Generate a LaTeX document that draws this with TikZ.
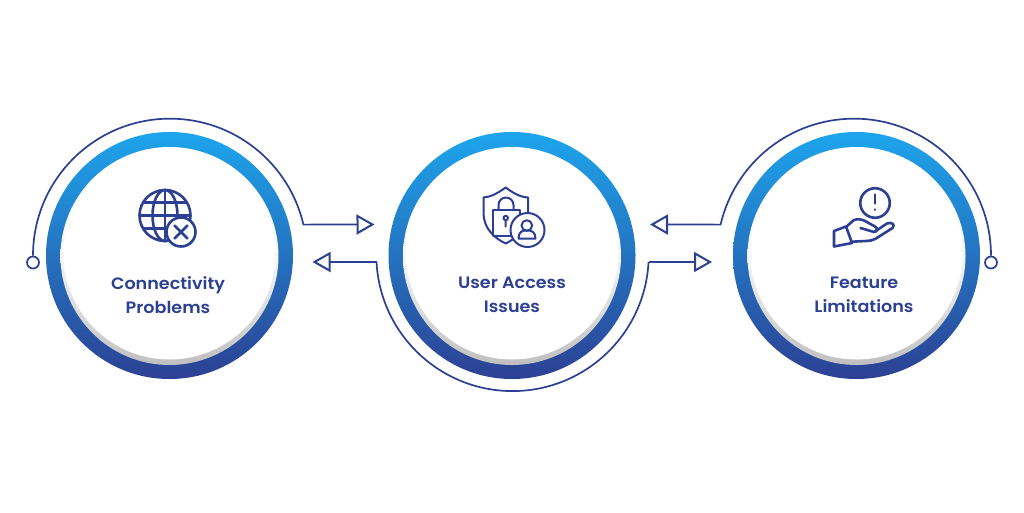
\documentclass[tikz,border=0pt]{standalone}
\usepackage{fontspec}
\setmainfont{Poppins}[BoldFont={Poppins SemiBold},BoldFeatures={FakeStretch=1.065}]
\usetikzlibrary{arrows.meta}
\definecolor{navy}{HTML}{2C4093}
\definecolor{sky}{HTML}{1DA5EC}
\tikzset{
 ring/.style={circle,minimum size=247pt,inner sep=0pt,top color=sky,bottom color=navy,middle color=sky!50!navy},
 bevel/.style={circle,minimum size=218pt,inner sep=0pt,top color=white,bottom color=black!25,middle color=black!3},
 disc/.style={circle,minimum size=212pt,inner sep=0pt,fill=white},
 caption/.style={align=center,text=navy,font=\fontsize{16.5}{24}\selectfont\bfseries},
 conn/.style={draw=navy,line width=1.7pt,line join=miter},
 tipped/.style={conn,-{Triangle[open,length=18pt,width=20pt,line width=2pt]}},
 dot/.style={circle,draw=navy,line width=1.7pt,minimum size=12pt,inner sep=0pt,fill=white},
 ico/.style={draw=navy,line width=2.6pt,line cap=round,line join=round},
 thinico/.style={ico,line width=2pt},
 badge/.style={ico,fill=white},
}
\begin{document}
\begin{tikzpicture}[x=1pt,y=-1pt]
\useasboundingbox (0,0) rectangle (1024,512);
% rings
\foreach \n/\cx in {a/169.5,b/512,c/856.5}{
 \node[ring] (\n ring) at (\cx,255.5) {};
 \node[bevel] (\n bevel) at (\cx,256) {};
 \node[disc] (\n disc) at (\cx,253.5) {};
}
% captions
\node[caption] (atext) at (168,294.7) {Connectivity\\Problems};
\node[caption] (btext) at (512,294.7) {User Access\\Issues};
\node[caption] (ctext) at (864,294.7) {Feature\\Limitations};
% free ends
\node[dot] (adot) at (33,262.5) {};
\node[dot] (cdot) at (991,262.5) {};
\coordinate (atip) at (374.5,224.5);
\coordinate (btipl) at (312.5,262);
\coordinate (btipr) at (712,262);
\coordinate (ctip) at (650,224.5);
% connectors
\draw[tipped] (adot.north) arc[start angle=180,end angle=346.9,radius=137] -- (atip);
\draw[tipped] (cdot.north) arc[start angle=0,end angle=-166.9,radius=137] -- (ctip);
\draw[tipped] (btipr -| 648.5,0) -- (btipr);
\draw[tipped] (376.5,262) -- (btipl);
\draw[conn] (376.5,262) arc[start angle=177,end angle=3,radius=136.2];
% globe
\begin{scope}[shift={(165,215.5)}]
 \draw[ico] (0,0) circle (25.5);
 \draw[ico] (0,-25.5) -- (0,25.5) (-25.5,0) -- (25.5,0);
 \draw[ico] (0,0) ellipse (12.5 and 25.5);
 \draw[ico] (-21,-13) -- (21,-13) (-21,13) -- (21,13);
\end{scope}
\node[badge,circle,minimum size=29pt,inner sep=0pt] (abadge) at (181,232) {};
\draw[ico,line width=2.8pt] (abadge.center) ++(-6.5,-6.5) -- ++(13,13) ++(0,-13) -- ++(-13,13);
% shield, lock, person
\draw[thinico] (505.7,187.5) .. controls (498,193) and (491,197) .. (483.5,197.5) -- (483.5,213) .. controls (483.5,228) and (494,238) .. (505.7,243.5) .. controls (517,238) and (528,228) .. (528,213) -- (528,197.5) .. controls (520,197) and (513,193) .. (505.7,187.5) -- cycle;
\draw[thinico] (492.5,210) rectangle (520,235.5);
\draw[thinico] (498.5,210) -- (498.5,205) arc[start angle=180,end angle=360,radius=7.5] -- (513.5,210);
\draw[thinico] (505.7,218) circle (2.2) (505.7,220.5) -- (505.7,226.5);
\node[badge,thinico,circle,minimum size=34pt,inner sep=0pt] (bbadge) at (527.5,230) {};
\draw[thinico] (526.8,225.5) circle (5.3);
\draw[thinico] (518.5,238.5) .. controls (518.5,232.5) and (522,231) .. (524,230.5) -- (529.5,230.5) .. controls (532,231) and (535.5,232.5) .. (535.5,238.5) -- cycle;
% hand with alert
\node[ico,circle,minimum size=29.5pt,inner sep=0pt] (cbadge) at (875,203) {};
\draw[ico] (875,194.5) -- (875,203.5) (875,209.5) -- (875,209.8);
\draw[ico] (834,231) -- (846,226.5) -- (852,243) -- (834,246.5) -- cycle;
\draw[ico] (846.5,226.5) -- (854,220) .. controls (858,218.5) and (862,219.5) .. (865,221) -- (875,226.5) .. controls (878,228) and (877.5,232) .. (874,232) -- (860.5,228);
\draw[ico] (875,231.5) -- (887,223.5) .. controls (892,221.5) and (895.5,225) .. (892.5,228) -- (876,238.5) .. controls (872,240.5) and (869,241) .. (866,241) -- (852,241.7);
\end{tikzpicture}
\end{document}
